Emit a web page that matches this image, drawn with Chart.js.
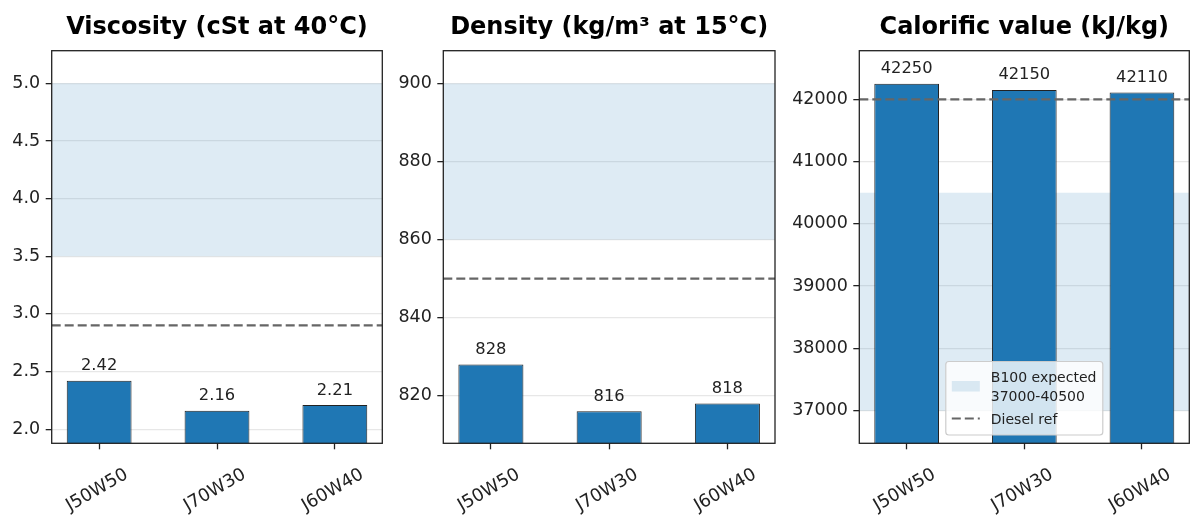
<!DOCTYPE html>
<html>
<head>
<meta charset="utf-8">
<script src="https://cdn.jsdelivr.net/npm/chart.js@4"></script>
<style>
    body { margin: 0; background: #fff; }
    #wrap { position: relative; width: 1192px; height: 516px; overflow: hidden; }
    canvas { position: absolute; top: 0; }
</style>
</head>
<body>
<div id="wrap">
    <canvas id="visc" width="392" height="516" style="left:0px"></canvas>
    <canvas id="dens" width="393" height="516" style="left:392px"></canvas>
    <canvas id="calo" width="407" height="516" style="left:785px"></canvas>
</div>
<script>
// blends
const categories = ['J50W50', 'J70W30', 'J60W40'];

// viscosity (cSt at 40°C)
const viscosity = [2.42, 2.16, 2.21];
const viscosityBand = [3.5, 5.0];
const viscosityRef = 2.9;
const viscosityTicks = [2.0, 2.5, 3.0, 3.5, 4.0, 4.5, 5.0];

// density (kg/m3 at 15°C)
const density = [828, 816, 818];
const densityBand = [860, 900];
const densityRef = 850;
const densityTicks = [820, 840, 860, 880, 900];

// calorific value (kJ/kg)
const calorific = [42250, 42150, 42110];
const calorificBand = [37000, 40500];
const calorificRef = 42000;
const calorificTicks = [37000, 38000, 39000, 40000, 41000, 42000];

Chart.defaults.font.family = 'DejaVu Sans';
Chart.defaults.color = '#222';

const BLUE = '#1f77b4';
const BAND = 'rgba(31,119,180,0.15)';
const DARK = '#222';

// band, ref line, value labels, frame, title, x labels, legend
function extrasPlugin(o) {
    return {
        id: 'extras',
        beforeDatasetsDraw(chart) {
            const a = chart.chartArea;
            const y = chart.scales.y;
            const ctx = chart.ctx;
            ctx.save();
            ctx.beginPath();
            ctx.rect(a.left, a.top, a.right - a.left, a.bottom - a.top);
            ctx.clip();
            const y1 = y.getPixelForValue(o.band[1]);
            const y0 = y.getPixelForValue(o.band[0]);
            ctx.fillStyle = BAND;
            ctx.fillRect(a.left, y1, a.right - a.left, y0 - y1);
            ctx.restore();
        },
        afterDraw(chart) {
            const a = chart.chartArea;
            const y = chart.scales.y;
            const x = chart.scales.x;
            const ctx = chart.ctx;
            ctx.save();

            // diesel reference line
            const ry = y.getPixelForValue(o.ref);
            ctx.strokeStyle = '#666';
            ctx.lineWidth = 2.2;
            ctx.setLineDash([9, 4]);
            ctx.beginPath();
            ctx.moveTo(a.left, ry);
            ctx.lineTo(a.right, ry);
            ctx.stroke();
            ctx.setLineDash([]);

            // value labels
            const meta = chart.getDatasetMeta(0);
            ctx.fillStyle = DARK;
            ctx.font = '16.3px "DejaVu Sans"';
            ctx.textAlign = 'center';
            ctx.textBaseline = 'alphabetic';
            meta.data.forEach((bar, i) => {
                ctx.fillText(o.valFmt(o.values[i]), bar.x, bar.y - 10.5);
            });

            // frame
            ctx.strokeStyle = DARK;
            ctx.lineWidth = 1.3;
            ctx.strokeRect(a.left, a.top, a.right - a.left, a.bottom - a.top);

            // title
            ctx.font = 'bold 24px "DejaVu Sans"';
            ctx.fillStyle = '#000';
            ctx.fillText(o.title, (a.left + a.right) / 2, 33.5);

            // rotated x labels
            ctx.font = '17.8px "DejaVu Sans"';
            ctx.fillStyle = DARK;
            ctx.textBaseline = 'middle';
            categories.forEach((c, i) => {
                ctx.save();
                ctx.translate(x.getPixelForValue(i) - 2, a.bottom + 47);
                ctx.rotate(-Math.PI / 6);
                ctx.fillText(c, 0, 0);
                ctx.restore();
            });

            // legend (only on the last panel)
            if (o.legend) {
                const cx = (a.left + a.right) / 2;
                const w = 157, h = 73.5;
                const lx = cx - w / 2, ly = a.bottom - 8.3 - h;
                ctx.fillStyle = 'rgba(255,255,255,0.8)';
                ctx.strokeStyle = '#ccc';
                ctx.lineWidth = 1.2;
                ctx.beginPath();
                ctx.roundRect(lx, ly, w, h, 3);
                ctx.fill();
                ctx.stroke();

                ctx.fillStyle = BAND;
                ctx.fillRect(lx + 6, ly + 19.5, 28, 10.5);

                ctx.strokeStyle = '#666';
                ctx.lineWidth = 2.2;
                ctx.setLineDash([9, 4]);
                ctx.beginPath();
                ctx.moveTo(lx + 6, ly + 57);
                ctx.lineTo(lx + 34, ly + 57);
                ctx.stroke();
                ctx.setLineDash([]);

                ctx.fillStyle = DARK;
                ctx.font = '14px "DejaVu Sans"';
                ctx.textAlign = 'left';
                ctx.textBaseline = 'alphabetic';
                ctx.fillText('B100 expected', lx + 45, ly + 20.8);
                ctx.fillText(`${o.band[0]}-${o.band[1]}`, lx + 45, ly + 39.5);
                ctx.fillText('Diesel ref', lx + 45, ly + 62.6);
            }
            ctx.restore();
        }
    };
}

function makePanel(id, values, band, ref, ticks, range, fmt, valFmt, title, yWidth, padRight, legend) {
    const ctx = document.getElementById(id).getContext('2d');
    return new Chart(ctx, {
        type: 'bar',
        data: {
            datasets: [{
                data: values.map((v, i) => ({ x: i, y: v })),
                backgroundColor: BLUE,
                borderColor: DARK,
                borderWidth: 1,
                barPercentage: 0.55,
                categoryPercentage: 1.0
            }]
        },
        options: {
            responsive: false,
            animation: false,
            layout: { padding: { top: 50.7, right: padRight, left: 0, bottom: 0 } },
            plugins: {
                legend: { display: false },
                tooltip: { enabled: false }
            },
            scales: {
                x: {
                    type: 'linear',
                    offset: false,
                    min: -0.4025,
                    max: 2.4025,
                    afterBuildTicks: s => { s.ticks = categories.map((c, i) => ({ value: i })); },
                    afterFit: s => { s.height = 72.7; },
                    ticks: { display: false },
                    grid: { offset: false, drawOnChartArea: false, tickLength: 6, tickColor: DARK, tickWidth: 1.3 },
                    border: { display: false }
                },
                y: {
                    min: range[0],
                    max: range[1],
                    z: 1,
                    afterBuildTicks: s => { s.ticks = ticks.map(v => ({ value: v })); },
                    afterFit: s => { s.width = yWidth; },
                    ticks: {
                        font: { size: 17.5 },
                        color: DARK,
                        padding: 5.5,
                        callback: v => fmt(Number(v))
                    },
                    grid: {
                        color: 'rgba(176,176,176,0.3)',
                        lineWidth: 1.3,
                        tickLength: 6,
                        tickColor: DARK,
                        tickWidth: 1.3
                    },
                    border: { display: false }
                }
            }
        },
        plugins: [extrasPlugin({ values, band, ref, valFmt, title, legend })]
    });
}

const intFmt = v => String(Math.round(v));

makePanel('visc', viscosity, viscosityBand, viscosityRef, viscosityTicks, [1.878, 5.283],
    v => v.toFixed(1), v => v.toFixed(2), 'Viscosity (cSt at 40°C)', 51.7, 9.7, false);
makePanel('dens', density, densityBand, densityRef, densityTicks, [807.8, 908.4],
    intFmt, intFmt, 'Density (kg/m³ at 15°C)', 51.3, 10, false);
makePanel('calo', calorific, calorificBand, calorificRef, calorificTicks, [36477, 42780],
    intFmt, intFmt, 'Calorific value (kJ/kg)', 74.3, 2.7, true);
</script>
</body>
</html>
